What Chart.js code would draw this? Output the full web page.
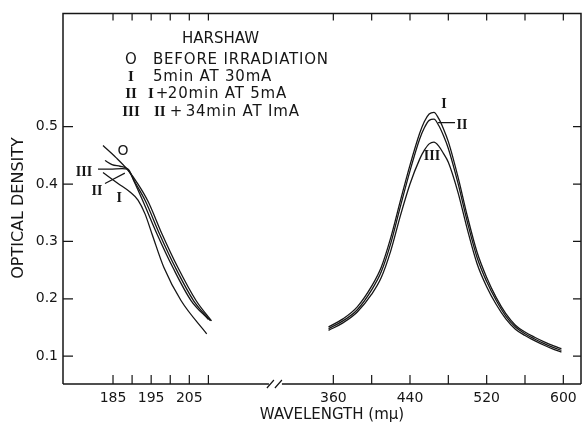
<!DOCTYPE html>
<html>
<head>
<meta charset="utf-8">
<script src="https://cdn.jsdelivr.net/npm/chart.js@4/dist/chart.umd.min.js"></script>
<style>
  html, body { margin: 0; padding: 0; background: #fff; }
  #wrap { width: 583px; height: 423px; }
</style>
</head>
<body>
<div id="wrap"><canvas id="odChart"></canvas></div>
<script>
// --- datos: longitud de onda (mμ) y densidad óptica ---
// banda UV (lado izquierdo del eje cortado)
const uvWlO   = [182.38, 185.79, 188.93, 191.55, 194.17, 197.84, 202.04, 206.76, 210.82];
const uvOdO   = [0.467, 0.446, 0.424, 0.400, 0.370, 0.313, 0.254, 0.197, 0.1615];
const uvWlI   = [182.38, 186.31, 189.46, 191.55, 193.39, 195.22, 198.37, 202.82, 209.56];
const uvOdI   = [0.420, 0.401, 0.386, 0.372, 0.348, 0.313, 0.254, 0.197, 0.139];
const uvWlII  = [182.9, 184.74, 186.83, 188.67, 191.03, 193.52, 197.19, 201.38, 206.1, 210.56];
const uvOdII  = [0.441, 0.434, 0.431, 0.427, 0.400, 0.370, 0.313, 0.254, 0.197, 0.1615];
const uvWlIII = [181.07, 184.21, 187.36, 188.93, 190.5, 192.86, 196.53, 200.73, 205.45, 210.03];
const uvOdIII = [0.426, 0.426, 0.427, 0.426, 0.405, 0.370, 0.313, 0.254, 0.197, 0.164];

// banda visible (lado derecho)
const visWl    = [355, 370, 385, 400, 410, 420, 430, 440, 450, 455, 460, 465, 470, 475, 480, 490, 500, 510, 520, 530, 540, 550, 560, 570, 580, 590, 598];
const visOdI   = [0.151, 0.165, 0.186, 0.222, 0.255, 0.307, 0.371, 0.433, 0.488, 0.509, 0.522, 0.525, 0.514, 0.496, 0.474, 0.413, 0.343, 0.281, 0.237, 0.202, 0.174, 0.154, 0.142, 0.133, 0.125, 0.118, 0.113];
const visOdII  = [0.148, 0.1615, 0.181, 0.2155, 0.247, 0.297, 0.361, 0.423, 0.478, 0.498, 0.511, 0.513, 0.502, 0.484, 0.462, 0.402, 0.333, 0.272, 0.230, 0.197, 0.170, 0.151, 0.139, 0.130, 0.122, 0.115, 0.110];
const visOdIII = [0.145, 0.158, 0.177, 0.208, 0.237, 0.284, 0.345, 0.400, 0.443, 0.459, 0.470, 0.473, 0.466, 0.453, 0.438, 0.386, 0.320, 0.261, 0.221, 0.190, 0.165, 0.147, 0.136, 0.127, 0.119, 0.112, 0.107];

// ejes
const xTickWl     = [185, 190, 195, 200, 205, 210, 360, 400, 440, 480, 520, 560, 600];
const xTickLabels = ['185', '', '195', '', '205', '', '360', '', '440', '', '520', '', '600'];
const yTicks      = [0.1, 0.2, 0.3, 0.4, 0.5];

const legendRows = [
    { num: 'O',   text: 'BEFORE IRRADIATION' },
    { num: 'I',   text: '5min AT 30mA' },
    { num: 'II',  text: 'I+20min AT 5mA' },
    { num: 'III', text: 'II + 34min AT ImA' }
];

// etiquetas de las curvas (en unidades de datos)
const curveLabels = [
    { text: 'O',   wl: 187.6, od: 0.457 },
    { text: 'III', wl: 177.4, od: 0.420 },
    { text: 'II',  wl: 180.8, od: 0.387 },
    { text: 'I',   wl: 186.6, od: 0.375 },
    { text: 'I',   wl: 475.5, od: 0.538 },
    { text: 'II',  wl: 494.3, od: 0.503 },
    { text: 'III', wl: 463.0, od: 0.448 }
];
const leaders = [
    [[182.9, 0.401], [188.1, 0.419]],
    [[469.3, 0.507], [487.0, 0.507]]
];

// eje x cortado: el tramo visible se comprime 1:4 respecto al UV
const toU = w => (w < 300 ? w : 242.75 + (w - 360) * 0.2512);
const uMin = 171.89, uMax = 307.67, breakU = 227.7;
const yMin = 0.0515, yMax = 0.6974;

const ink = '#161616';
const sans = "'DejaVu Sans', sans-serif";
const serif = "'Liberation Serif', serif";
const toPts = (wl, od) => wl.map((w, i) => ({ x: toU(w), y: od[i] }));

const series = [
    toPts(uvWlO, uvOdO), toPts(uvWlI, uvOdI), toPts(uvWlII, uvOdII), toPts(uvWlIII, uvOdIII),
    toPts(visWl, visOdI), toPts(visWl, visOdII), toPts(visWl, visOdIII)
];

const isRoman = s => /^I+$/.test(s);

const framePlugin = {
    id: 'frame',
    afterDraw(chart) {
        const { ctx, chartArea: a, scales: { x, y } } = chart;
        ctx.save();
        ctx.strokeStyle = ink;
        ctx.lineWidth = 1.5;
        const bx = x.getPixelForValue(breakU);
        ctx.beginPath();
        ctx.moveTo(a.left, a.bottom);
        ctx.lineTo(a.left, a.top);
        ctx.lineTo(a.right, a.top);
        ctx.lineTo(a.right, a.bottom);
        ctx.moveTo(a.left, a.bottom);
        ctx.lineTo(bx - 7, a.bottom);
        ctx.moveTo(bx + 6, a.bottom);
        ctx.lineTo(a.right, a.bottom);
        ctx.stroke();

        ctx.lineWidth = 1.2;
        ctx.beginPath();
        ctx.moveTo(bx - 9, a.bottom + 4); ctx.lineTo(bx - 2, a.bottom - 4);
        ctx.moveTo(bx - 1, a.bottom + 4); ctx.lineTo(bx + 6, a.bottom - 4);
        // marcas hacia dentro
        x.ticks.forEach(t => {
            const px = x.getPixelForValue(t.value);
            ctx.moveTo(px, a.bottom); ctx.lineTo(px, a.bottom - 9);
            ctx.moveTo(px, a.top); ctx.lineTo(px, a.top + 7);
        });
        y.ticks.forEach(t => {
            const py = y.getPixelForValue(t.value);
            ctx.moveTo(a.left, py); ctx.lineTo(a.left + 10, py);
            ctx.moveTo(a.right, py); ctx.lineTo(a.right - 8, py);
        });
        leaders.forEach(([p, q]) => {
            ctx.moveTo(x.getPixelForValue(toU(p[0])), y.getPixelForValue(p[1]));
            ctx.lineTo(x.getPixelForValue(toU(q[0])), y.getPixelForValue(q[1]));
        });
        ctx.stroke();

        ctx.fillStyle = ink;
        ctx.textBaseline = 'middle';
        ctx.textAlign = 'center';
        curveLabels.forEach(l => {
            ctx.font = isRoman(l.text) ? 'bold 14px ' + serif : '14px ' + sans;
            ctx.fillText(l.text, x.getPixelForValue(toU(l.wl)), y.getPixelForValue(l.od));
        });

        // leyenda
        ctx.textAlign = 'left';
        ctx.font = '15px ' + sans;
        ctx.fillText('HARSHAW', 182, 39);
        const rowY = [60, 77, 94, 112];
        legendRows.forEach((r, i) => {
            ctx.letterSpacing = '0px';
            ctx.textAlign = 'center';
            ctx.font = isRoman(r.num) ? 'bold 15px ' + serif : '15px ' + sans;
            ctx.fillText(r.num, 131, rowY[i]);
            ctx.textAlign = 'left';
            const m = r.text.match(/^(I+)(\s*\+)(.*)$/);
            if (m) {
                const long = m[1].length > 1;
                const x0 = long ? 154 : 148;
                ctx.font = 'bold 15px ' + serif;
                ctx.fillText(m[1], x0, rowY[i]);
                const w = ctx.measureText(m[1]).width;
                ctx.font = '15px ' + sans;
                const px = x0 + w + (long ? 4 : 2);
                ctx.fillText('+', px, rowY[i]);
                ctx.letterSpacing = '0.8px';
                ctx.fillText(m[3].trim(), px + (long ? 16 : 12), rowY[i]);
            } else {
                ctx.font = '15px ' + sans;
                ctx.letterSpacing = '0.8px';
                ctx.fillText(r.text, 153, rowY[i]);
            }
        });
        ctx.letterSpacing = '0px';

        // títulos de ejes
        ctx.textAlign = 'center';
        ctx.font = '15px ' + sans;
        ctx.fillText('WAVELENGTH (mμ)', 332, 415);
        ctx.translate(19, 208);
        ctx.rotate(-Math.PI / 2);
        ctx.font = '16px ' + sans;
        ctx.fillText('OPTICAL DENSITY', 0, 0);
        ctx.restore();
    }
};

const ctx = document.getElementById('odChart').getContext('2d');
new Chart(ctx, {
    type: 'line',
    data: {
        datasets: series.map(pts => ({
            data: pts,
            borderColor: ink,
            borderWidth: 1.3,
            pointRadius: 0,
            fill: false,
            cubicInterpolationMode: 'monotone'
        }))
    },
    options: {
        responsive: true,
        maintainAspectRatio: false,
        animation: false,
        layout: { padding: { top: 11, right: 2, left: 0, bottom: 0 } },
        plugins: {
            legend: { display: false },
            tooltip: { enabled: false }
        },
        scales: {
            x: {
                type: 'linear',
                min: uMin,
                max: uMax,
                afterBuildTicks: s => { s.ticks = xTickWl.map(w => ({ value: toU(w) })); },
                afterFit: s => { s.height = 39; },
                grid: { display: false, drawTicks: false },
                border: { display: false },
                ticks: {
                    autoSkip: false,
                    maxRotation: 0,
                    padding: 6,
                    color: ink,
                    font: { family: sans, size: 14 },
                    callback: (v, i) => xTickLabels[i]
                }
            },
            y: {
                min: yMin,
                max: yMax,
                afterBuildTicks: s => { s.ticks = yTicks.map(v => ({ value: v })); },
                afterFit: s => { s.width = 63; },
                grid: { display: false, drawTicks: false },
                border: { display: false },
                ticks: {
                    padding: 5,
                    color: ink,
                    font: { family: sans, size: 14 },
                    callback: v => v.toFixed(1)
                }
            }
        }
    },
    plugins: [framePlugin]
});
</script>
</body>
</html>
